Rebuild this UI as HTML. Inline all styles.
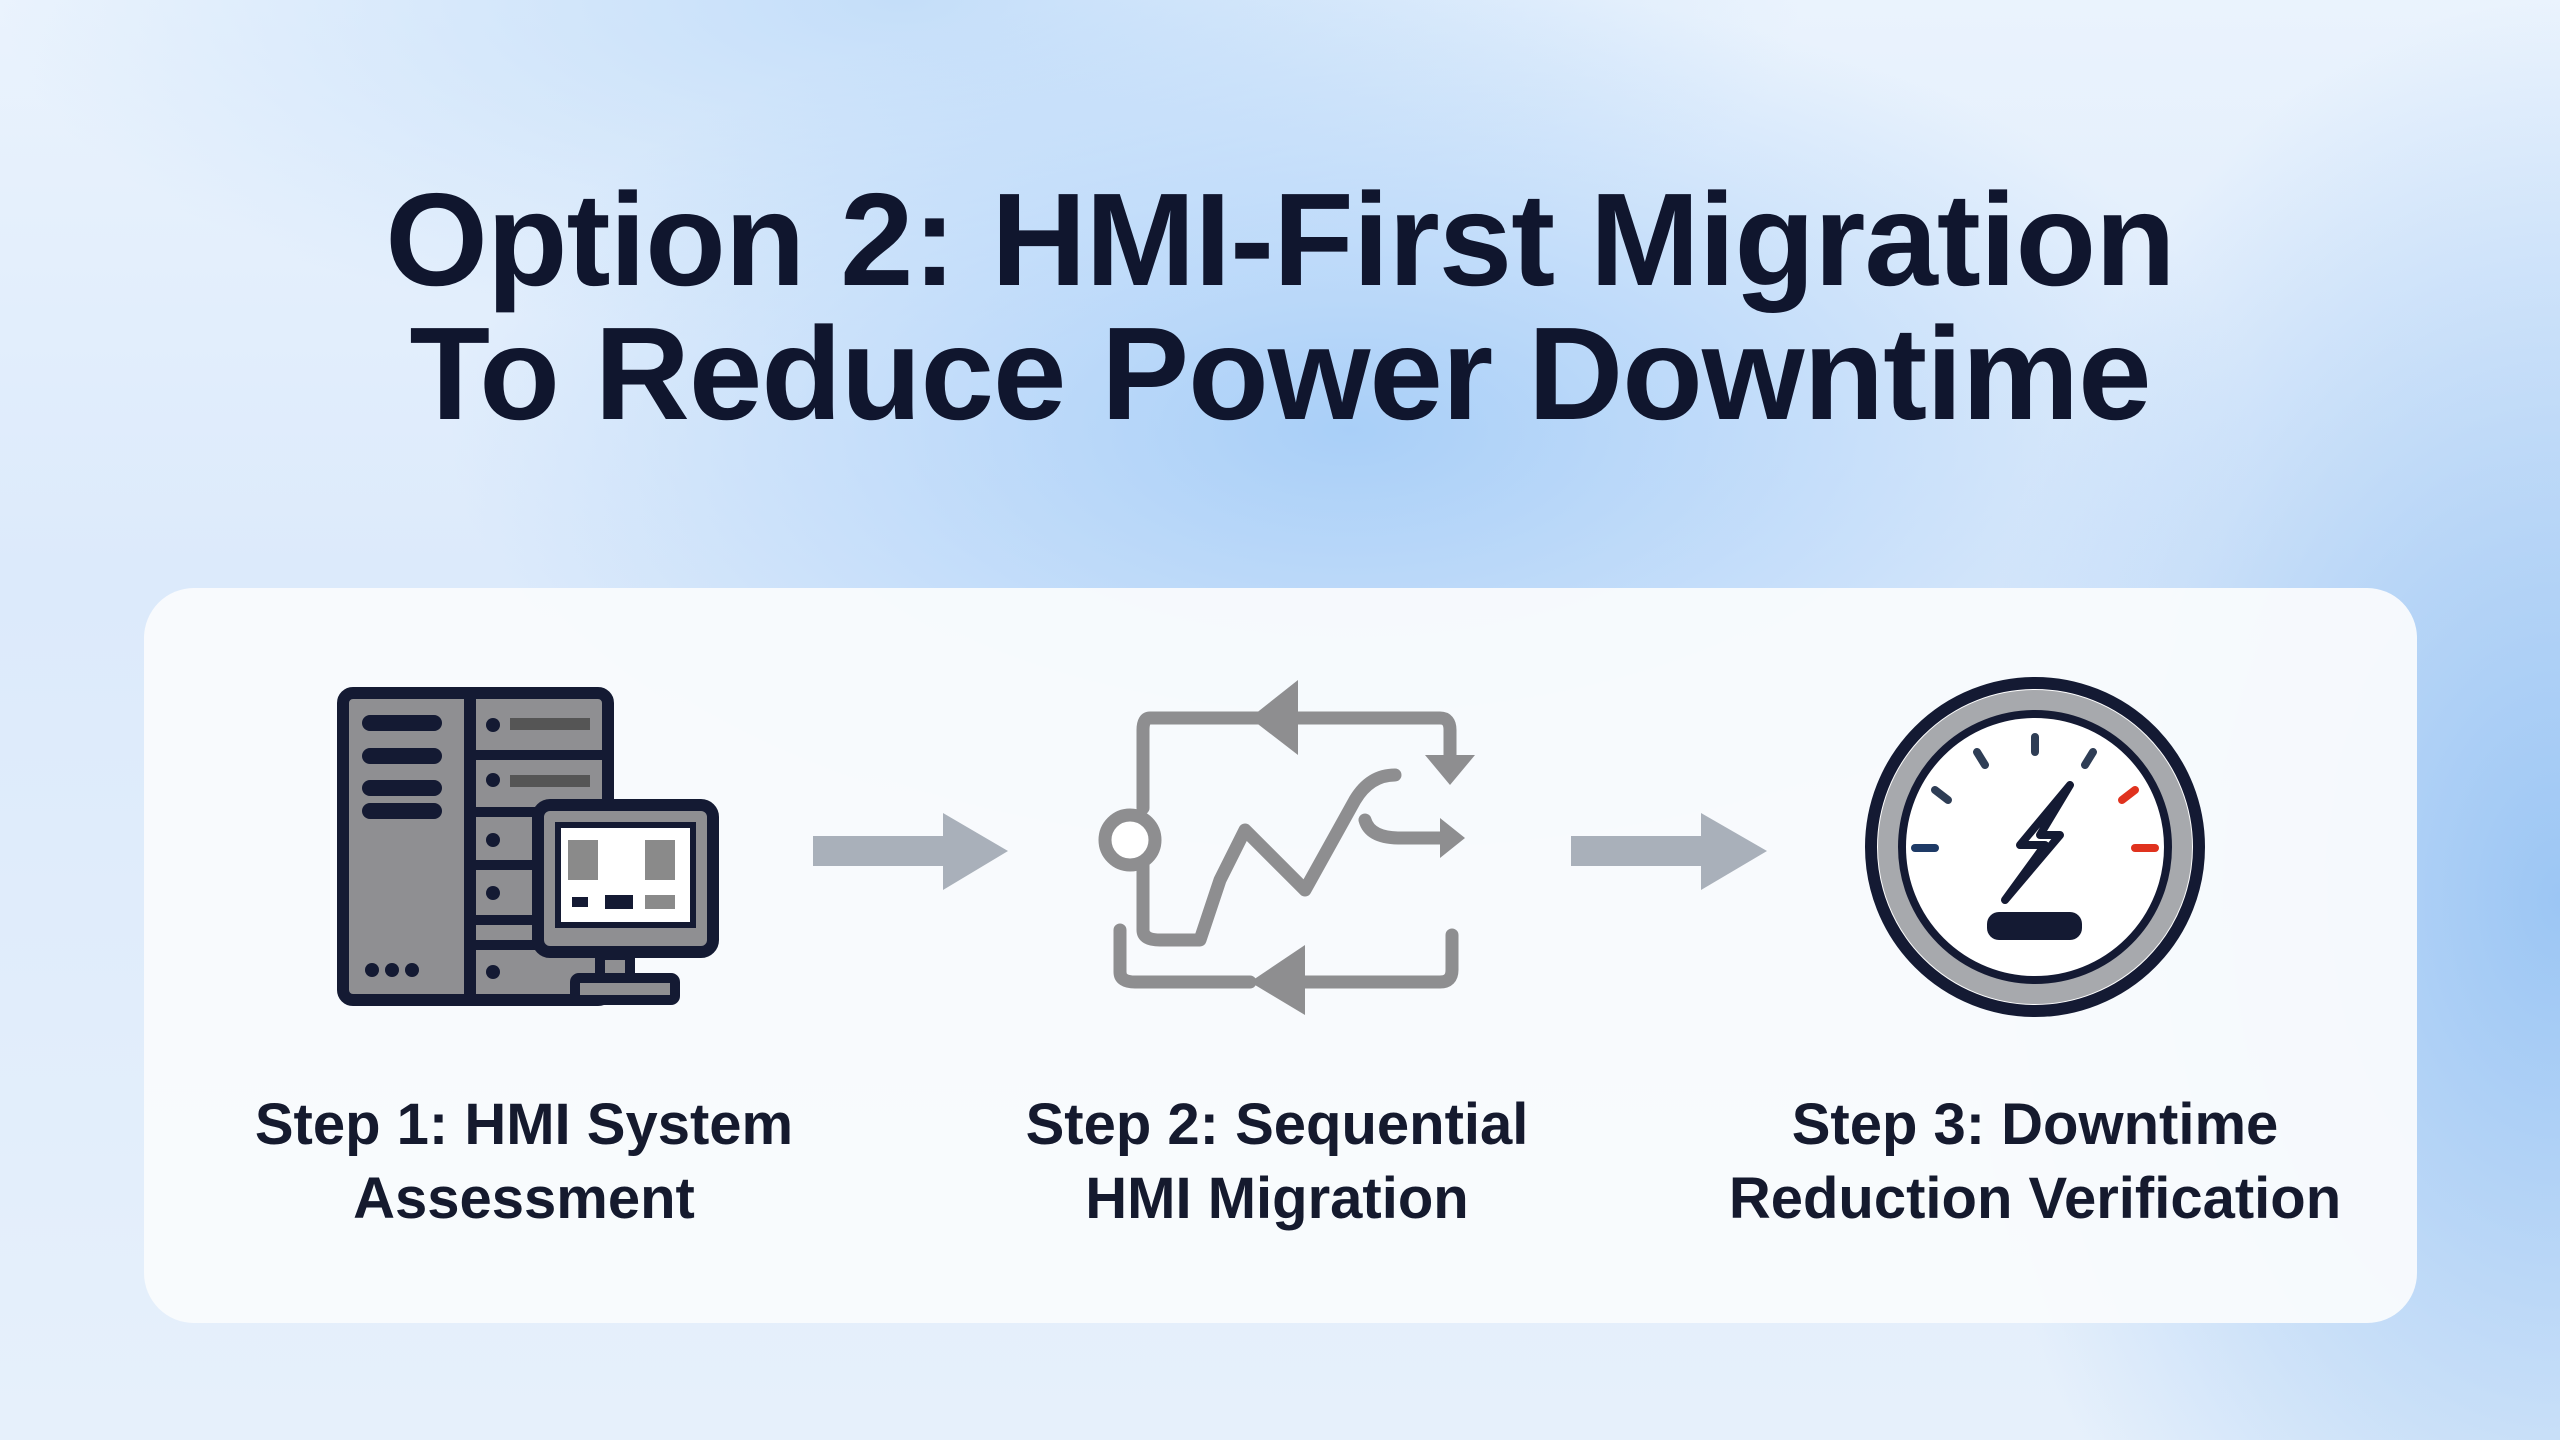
<!DOCTYPE html>
<html><head><meta charset="utf-8"><style>
html,body{margin:0;padding:0;}
body{width:2560px;height:1440px;overflow:hidden;position:relative;font-family:"Liberation Sans",sans-serif;
background:
radial-gradient(ellipse 900px 450px at 1350px 430px, #a9cff8 0%, rgba(169,207,248,0) 100%),
radial-gradient(ellipse 600px 900px at 2560px 900px, #9cc6f4 0%, rgba(156,198,244,0) 100%),
radial-gradient(ellipse 900px 350px at 900px 0px, #c4def9 0%, rgba(196,222,249,0) 100%),
linear-gradient(180deg,#eaf3fd 0%,#dceafb 40%,#e6f0fb 100%);}
.title{position:absolute;left:0;width:2560px;text-align:center;font-weight:bold;color:#10162e;font-size:132px;line-height:134px;top:173px;letter-spacing:-1px;}
.card{position:absolute;left:144px;top:588px;width:2273px;height:735px;border-radius:50px;background:rgba(249,251,253,0.95);}
.lbl{position:absolute;width:800px;text-align:center;font-weight:bold;color:#151a2e;font-size:58px;line-height:74px;top:1088px;}
</style></head><body>
<div class="title">Option 2: HMI-First Migration<br>To Reduce Power Downtime</div>
<div class="card"></div>
<svg width="2560" height="1440" style="position:absolute;left:0;top:0">
<rect x="343" y="693" width="265" height="307" rx="10" fill="#8f8f92" stroke="#141a33" stroke-width="12"/>
<line x1="470" y1="693" x2="470" y2="1000" stroke="#141a33" stroke-width="12"/>
<g fill="#141a33">
<rect x="362" y="715" width="80" height="16" rx="8"/><rect x="362" y="748" width="80" height="16" rx="8"/>
<rect x="362" y="780" width="80" height="16" rx="8"/><rect x="362" y="803" width="80" height="16" rx="8"/>
<circle cx="372" cy="970" r="7"/><circle cx="392" cy="970" r="7"/><circle cx="412" cy="970" r="7"/>
<circle cx="493" cy="725" r="7"/><circle cx="493" cy="780" r="7"/><circle cx="493" cy="840" r="7"/><circle cx="493" cy="893" r="7"/><circle cx="493" cy="972" r="7"/>
</g>
<g stroke="#141a33" stroke-width="10"><line x1="470" y1="755" x2="608" y2="755"/><line x1="470" y1="812" x2="608" y2="812"/><line x1="470" y1="865" x2="608" y2="865"/><line x1="470" y1="920" x2="608" y2="920"/><line x1="470" y1="945" x2="608" y2="945"/></g>
<g fill="#555"><rect x="510" y="718" width="80" height="12"/><rect x="510" y="775" width="80" height="12"/></g>
<rect x="600" y="955" width="30" height="30" fill="#8f8f92" stroke="#141a33" stroke-width="10"/>
<rect x="575" y="978" width="100" height="22" rx="4" fill="#8f8f92" stroke="#141a33" stroke-width="10"/>
<rect x="538" y="805" width="175" height="147" rx="12" fill="#8f8f92" stroke="#141a33" stroke-width="12"/>
<rect x="558" y="825" width="135" height="100" fill="#fff" stroke="#141a33" stroke-width="6"/>
<g fill="#8a8a8a"><rect x="568" y="840" width="30" height="40"/><rect x="645" y="840" width="30" height="40"/><rect x="645" y="895" width="30" height="14"/></g>
<g fill="#141a33"><rect x="605" y="895" width="28" height="14"/><rect x="572" y="897" width="16" height="10"/></g>
<g fill="#a9b0ba"><rect x="813" y="836" width="130" height="30"/><polygon points="943,813 1008,851 943,890"/>
<rect x="1571" y="836" width="130" height="30"/><polygon points="1701,813 1767,851 1701,890"/></g>
<g fill="none" stroke="#8e8e90" stroke-width="13" stroke-linejoin="round" stroke-linecap="round">
<path d="M1280 718 H1150 Q1143 718 1143 730 V808"/>
<path d="M1290 718 H1440 Q1450 718 1450 730 V760"/>
<path d="M1143 865 V930 Q1143 940 1160 940 H1200 L1220 880 L1245 830 L1260 845 L1305 890 L1355 800 Q1370 775 1395 775"/>
<path d="M1365 820 Q1370 838 1400 838 H1440"/>
<path d="M1120 930 Q1120 930 1120 940 V972 Q1120 982 1135 982 H1250"/>
<path d="M1300 982 H1440 Q1452 982 1452 970 V935"/>
</g>
<circle cx="1130" cy="840" r="25" fill="#fff" stroke="#8e8e90" stroke-width="13"/>
<g fill="#8e8e90"><polygon points="1250,718 1298,680 1298,755"/><polygon points="1425,755 1475,755 1450,785"/>
<polygon points="1440,818 1465,838 1440,858"/><polygon points="1250,982 1305,945 1305,1015"/></g>
<circle cx="2035" cy="847" r="164" fill="#fff" stroke="#141a33" stroke-width="12"/>
<circle cx="2035" cy="847" r="146" fill="none" stroke="#a7a9ad" stroke-width="22"/>
<circle cx="2035" cy="847" r="133" fill="#fff" stroke="#141a33" stroke-width="8"/>
<g stroke-width="8" stroke-linecap="round">
<line x1="2035" y1="737" x2="2035" y2="752" stroke="#2e3d55"/>
<line x1="1977" y1="752" x2="1985" y2="765" stroke="#2e3d55"/>
<line x1="2093" y1="752" x2="2085" y2="765" stroke="#2e3d55"/>
<line x1="1935" y1="790" x2="1948" y2="800" stroke="#2e3d55"/>
<line x1="2135" y1="790" x2="2122" y2="800" stroke="#e0321e"/>
<line x1="1915" y1="848" x2="1935" y2="848" stroke="#1e3a66"/>
<line x1="2135" y1="848" x2="2155" y2="848" stroke="#e0321e"/>
</g>
<polygon points="2070,785 2020,845 2045,845 2005,900 2060,835 2040,835" fill="#fff" stroke="#141a33" stroke-width="8" stroke-linejoin="round"/>
<rect x="1987" y="912" width="95" height="28" rx="12" fill="#141a33"/>
</svg>
<div class="lbl" style="left:124px">Step 1: HMI System<br>Assessment</div>
<div class="lbl" style="left:877px">Step 2: Sequential<br>HMI Migration</div>
<div class="lbl" style="left:1635px">Step 3: Downtime<br>Reduction Verification</div>
</body></html>
